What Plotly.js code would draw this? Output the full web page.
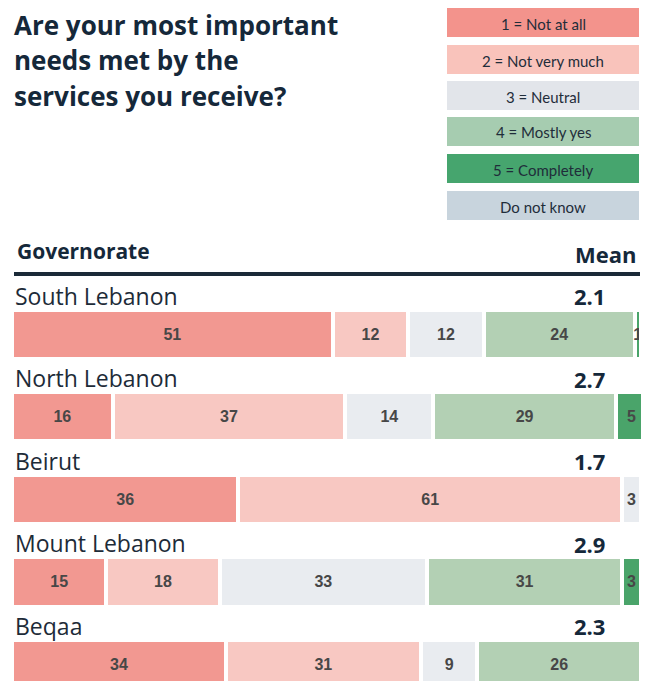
<!DOCTYPE html>
<html>
<head>
<meta charset="utf-8">
<script src="https://cdn.plot.ly/plotly-3.0.1.min.js"></script>
<style>html,body{margin:0;padding:0;background:#fff;}#chart{width:649px;height:681px;}</style>
</head>
<body>
<div id="chart"></div>
<script>
// ---- data ----
var regions = ['South Lebanon', 'North Lebanon', 'Beirut', 'Mount Lebanon', 'Beqaa'];
var notAtAll = [51, 16, 36, 15, 34];
var notVeryMuch = [12, 37, 61, 18, 31];
var neutral = [12, 14, 3, 33, 9];
var mostlyYes = [24, 29, 0, 31, 26];
var completely = [1, 5, 0, 3, 0];
var doNotKnow = [0, 0, 0, 0, 0];
var means = [2.1, 2.7, 1.7, 2.9, 2.3];
var categoryNames = ['1 = Not at all', '2 = Not very much', '3 = Neutral', '4 = Mostly yes', '5 = Completely', 'Do not know'];
var titleLines = ['Are your most important', 'needs met by the', 'services you receive?'];
var headerLeft = 'Governorate';
var headerRight = 'Mean';

// ---- style ----
var barColors = ['#f29891', '#f8c8c2', '#e9ecf0', '#b3d0b4', '#4aa46a', '#c8d4dd'];
var legendColors = ['#f3938c', '#f9c3bb', '#e2e5ea', '#a6ccb0', '#46a56e', '#c8d4dd'];
var dark = '#15283a';
var W = 649, H = 681;
var M = {l: 12, r: 8, t: 290, b: 0};
var plotW = W - M.l - M.r, plotH = H - M.t - M.b;
function px2x(px) { return (px - M.l) / plotW; }
function py2y(py) { return (H - M.b - py) / plotH; }

var series = [notAtAll, notVeryMuch, neutral, mostlyYes, completely, doNotKnow];
var yIdx = regions.map(function (r, i) { return i; });

var traces = series.map(function (vals, k) {
  return {
    type: 'bar',
    orientation: 'h',
    name: categoryNames[k],
    x: vals,
    y: yIdx,
    width: 0.594,
    marker: {color: barColors[k], line: {color: '#ffffff', width: 4}},
    text: vals.map(function (v) { return v > 0 ? String(v) : ''; }),
    textposition: 'inside',
    insidetextanchor: 'middle',
    textangle: 0,
    constraintext: 'none',
    textfont: {family: 'Liberation Sans, Arial, sans-serif', size: 16, color: '#474747', weight: 'bold'},
    hoverinfo: 'skip'
  };
});

var sans = 'Open Sans, sans-serif';
var annotations = [];
// title
var titleCenters = [24.5, 60, 96];
titleLines.forEach(function (t, i) {
  annotations.push({
    text: t, xref: 'paper', yref: 'paper', x: px2x(12), y: py2y(titleCenters[i]),
    xanchor: 'left', yanchor: 'middle', showarrow: false,
    font: {family: sans, size: 26, color: dark, weight: 'bold'}
  });
});
// header
annotations.push({
  text: headerLeft, xref: 'paper', yref: 'paper', x: px2x(15), y: py2y(251.5),
  xanchor: 'left', yanchor: 'middle', showarrow: false,
  font: {family: sans, size: 21, color: dark, weight: 'bold'}
});
annotations.push({
  text: headerRight, xref: 'paper', yref: 'paper', x: px2x(639), y: py2y(253.5),
  xanchor: 'right', yanchor: 'middle', showarrow: false,
  font: {family: sans, size: 22, color: dark, weight: 'bold'}
});
// region labels and means
regions.forEach(function (r, i) {
  annotations.push({
    text: r, xref: 'x', yref: 'y', x: 0, y: i - 0.273, xshift: 1, yshift: -2,
    xanchor: 'left', yanchor: 'bottom', showarrow: false,
    font: {family: sans, size: 23, color: '#1d2b38'}
  });
  annotations.push({
    text: means[i].toFixed(1), xref: 'x', yref: 'y', x: 94.6, y: i - 0.273, yshift: -1.5,
    xanchor: 'right', yanchor: 'bottom', showarrow: false,
    font: {family: sans, size: 22, color: dark, weight: 'bold'}
  });
});

// legend boxes
var shapes = [];
var legendTops = [8, 45, 81, 117, 154, 191];
categoryNames.forEach(function (c, k) {
  var top = legendTops[k];
  shapes.push({
    type: 'rect', xref: 'paper', yref: 'paper',
    x0: px2x(447), x1: px2x(639), y0: py2y(top + 29), y1: py2y(top),
    fillcolor: legendColors[k], line: {width: 0}, layer: 'above'
  });
  annotations.push({
    text: c, xref: 'paper', yref: 'paper', x: px2x(543), y: py2y(top + 15.5),
    xanchor: 'center', yanchor: 'middle', showarrow: false,
    font: {family: 'Lato, sans-serif', size: 15, color: '#1f2d3a'}
  });
});
// header rule
shapes.push({
  type: 'line', xref: 'paper', yref: 'paper',
  x0: px2x(14), x1: px2x(640), y0: py2y(274), y1: py2y(274),
  line: {color: '#1b2a38', width: 4}
});

var layout = {
  width: W, height: H,
  margin: M,
  paper_bgcolor: '#ffffff', plot_bgcolor: '#ffffff',
  barmode: 'stack',
  showlegend: false,
  hovermode: false,
  xaxis: {range: [0, 100], showgrid: false, zeroline: false, showticklabels: false, showline: false, fixedrange: true},
  yaxis: {range: [4.2, -0.539], showgrid: false, zeroline: false, showticklabels: false, showline: false, fixedrange: true},
  annotations: annotations,
  shapes: shapes
};

Plotly.newPlot('chart', traces, layout, {displayModeBar: false, staticPlot: true});
</script>
</body>
</html>
